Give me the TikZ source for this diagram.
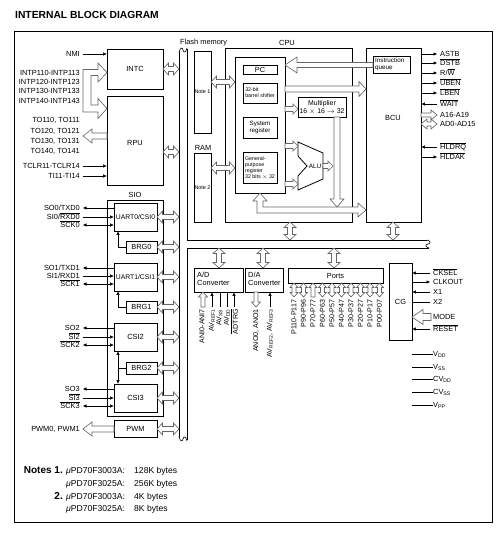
\documentclass[tikz,border=0pt]{standalone}
\usepackage{fontspec}
\setmainfont{Liberation Sans}
\usetikzlibrary{arrows.meta}
\newcommand\olx[1]{$\overline{\hbox{#1}}$}
\def\pw{2.5}\def\hw{6}\def\hl{5}
\newcommand\setfat[3]{\def\pw{#1}\def\hw{#2}\def\hl{#3}}
\newcommand\HA[3]{\pgfmathsetmacro\hbx{#2-sign(#2-#1)*\hl}%
  \path[fat] (#1,#3-\pw) -- (\hbx,#3-\pw) -- (\hbx,#3-\hw) -- (#2,#3) -- (\hbx,#3+\hw) -- (\hbx,#3+\pw) -- (#1,#3+\pw) -- cycle;}
\newcommand\VA[3]{\pgfmathsetmacro\hby{#3-sign(#3-#2)*\hl}%
  \path[fat] (#1-\pw,#2) -- (#1-\pw,\hby) -- (#1-\hw,\hby) -- (#1,#3) -- (#1+\hw,\hby) -- (#1+\pw,\hby) -- (#1+\pw,#2) -- cycle;}
\newcommand\HD[3]{\path[fat] (#1,#3) -- (#1+\hl,#3-\hw) -- (#1+\hl,#3-\pw) -- (#2-\hl,#3-\pw) -- (#2-\hl,#3-\hw) -- (#2,#3) -- (#2-\hl,#3+\hw) -- (#2-\hl,#3+\pw) -- (#1+\hl,#3+\pw) -- (#1+\hl,#3+\hw) -- cycle;}
\newcommand\VD[3]{\path[fat] (#1,#2) -- (#1-\hw,#2+\hl) -- (#1-\pw,#2+\hl) -- (#1-\pw,#3-\hl) -- (#1-\hw,#3-\hl) -- (#1,#3) -- (#1+\hw,#3-\hl) -- (#1+\pw,#3-\hl) -- (#1+\pw,#2+\hl) -- (#1+\hw,#2+\hl) -- cycle;}
\newcommand\blk[7][]{\node[blkbox,#1,minimum width={(#5)-(#3)},minimum height={(#6)-(#4)}] (#2) at ({((#3)+(#5))/2},{((#4)+(#6))/2}) {#7};}
\newcommand\lsig[5]{\node[lbl,anchor=base east] (#1) at (80,#2+2.6) {#3};
  \draw[#5] (83,#2) -- (#4.west |- 0,#2);}
\newcommand\rsig[6]{\node[lbl,anchor=base west] (#1) at (#3,#4+2.6) {#5};
  \draw[#6] (#2.east |- 0,#4) -- (#3-3,#4);}
\tikzset{
  fat/.style={draw=black!60, fill=white, line width=0.65pt, line join=miter},
  blkbox/.style={draw, line width=0.8pt, inner sep=0pt},
  lbl/.style={inner sep=0pt},
  ln/.style={line width=0.6pt},
  bline/.style={line width=0.8pt},
  tipB/.style={ln, -{Triangle[length=3.5pt,width=3pt]}},
  tipA/.style={ln, {Triangle[length=3.5pt,width=3pt]}-},
  tipAB/.style={ln, {Triangle[length=3.5pt,width=3pt]}-{Triangle[length=3.5pt,width=3pt]}},
  tinyf/.style={font=\fontsize{5.3}{6}\selectfont},
  rot/.style={lbl, rotate=90, anchor=east, font=\fontsize{7.1}{8}\selectfont},
  notef/.style={font=\fontsize{8.6}{10}\selectfont},
}
\begin{document}
\begin{tikzpicture}[x=1pt,y=-1pt,font=\fontsize{7.4}{8.7}\selectfont]
\useasboundingbox (0,0) rectangle (501,535);
\node[lbl,anchor=west,font=\bfseries\fontsize{10.3}{12}\selectfont] (title) at (15,15) {INTERNAL BLOCK DIAGRAM};
\draw[blkbox] (14,31) rectangle (492,522);

% bus pipe
\draw[bline] (179,52) -- (179,437);
\draw[bline] (187,49) -- (187,240) -- (427,240);
\draw[bline] (429,248) -- (187,248) -- (187,440);
\draw[ln] (179,53) .. controls (180,47) and (182.5,47) .. (183,50) .. controls (183.5,53) and (186,53) .. (187,48);
\draw[ln] (179,436) .. controls (180,442) and (182.5,442) .. (183,439) .. controls (183.5,436) and (186,436) .. (187,441);
\draw[ln] (427,240) .. controls (431,241) and (431,243.5) .. (428,244) .. controls (425,244.5) and (425,247) .. (429,248);

% left blocks
\blk{intc}{107}{49}{163}{89}{INTC}
\blk{rpu}{107}{96}{163}{185}{}
\node[lbl] (rpul) at (135,143) {RPU};
\node[lbl] (siol) at (135,195) {SIO};
\blk{sio}{107}{200}{163}{416}{}
\blk[font=\fontsize{6.8}{8}\selectfont]{uart0}{114}{203}{157}{231}{UART0/CSI0}
\blk{brg0}{126}{241}{157}{253}{BRG0}
\blk[font=\fontsize{6.8}{8}\selectfont]{uart1}{114}{263}{157}{291}{UART1/CSI1}
\blk{brg1}{126}{301}{157}{313}{BRG1}
\blk{csi2}{114}{323}{157}{351}{CSI2}
\blk{brg2}{126}{362}{157}{374}{BRG2}
\blk{csi3}{114}{384}{157}{412}{CSI3}
\blk{pwm}{114}{420}{157}{437}{PWM}
\draw[tipB] (brg0.west) -- (118,247) -- (uart0.south -| 118,0);
\draw[tipB] (brg1.west) -- (118,307) -- (uart1.south -| 118,0);
\draw[tipAB] (csi2.south -| 118,0) -- (csi3.north -| 118,0);
\draw[ln] (118,368) -- (brg2.west);

% memories
\node[lbl,anchor=west] (flashl) at (180,43) {Flash memory};
\blk[font=\fontsize{5.4}{6}\selectfont]{note1}{194}{51}{211}{133}{Note 1}
\node[lbl] (raml) at (203,148) {RAM};
\blk[font=\fontsize{5.4}{6}\selectfont]{note2}{194}{153}{211}{222}{Note 2}

% CPU
\blk{cpu}{225}{48}{352}{222}{}
\node[lbl] (cpul) at (287,42.5) {CPU};
\blk{inner}{235}{57}{285}{193}{}
\blk{pc}{243}{65}{277}{74}{PC}
\blk[tinyf,align=left]{bsh}{243}{83}{277}{103}{32-bit\\barrel shifter}
\blk[font=\fontsize{6.2}{7.2}\selectfont,align=center]{sysreg}{243}{117}{277}{138}{System\\register}
\blk[tinyf,align=left]{gpr}{243}{152}{277}{183}{General-\\purpose\\register\\32 bits $\times$ 32}
\blk[font=\fontsize{6.9}{8}\selectfont,align=center]{mul}{298}{97}{346}{117}{Multiplier\\16 $\times$ 16 $\rightarrow$ 32}
\draw[blkbox] (298,142) -- (323,153) -- (323,179) -- (298,190) -- (298,176) -- (307,166) -- (298,156) -- cycle;
\node[lbl,font=\fontsize{6.4}{7}\selectfont] (alul) at (315,166) {ALU};
\blk{bcu}{366}{48}{421}{222}{}
\node[lbl] (bcul) at (393,118) {BCU};
\blk{iq}{373}{56}{410}{73}{}
\node[lbl,font=\fontsize{6.3}{7}\selectfont,align=left,anchor=west] (iql) at (375,64.5) {Instruction\\queue};

% CPU internal fat arrows
\setfat{2.5}{8}{12}\HA{373}{285}{65}
\setfat{3}{7.5}{7}\HA{285}{366}{89}
\setfat{2.5}{5}{5}\HA{285}{298}{109}\HA{285}{298}{146}\HA{285}{298}{184}\HA{323}{333}{166}
\path[fat] (260,193) -- (267,201) -- (263,201) -- (263,207) -- (358,207) -- (358,203) -- (366,210) -- (358,217) -- (358,213) -- (257,213) -- (257,201) -- (253,201) -- cycle;
\setfat{3}{7}{8}\VA{337}{117}{207}

% double arrows to bus
\setfat{2.5}{6}{5.5}
\HD{211}{235}{82}\HD{211}{235}{168}
\HD{163}{179}{69}\HD{163}{179}{152}
\foreach \y in {217,247,277,307,337,368,398,429} {\HD{157}{179}{\y}}
\VD{290}{222}{240}\VD{393}{222}{240}
\VD{219}{248}{268}\VD{263}{248}{268}\VD{334}{248}{268}

% left signals
\lsig{nmi}{54}{NMI}{intc}{tipB}
\foreach \y/\t [count=\i] in {73/INTP110-INTP113,82/INTP120-INTP123,91/INTP130-INTP133,101/INTP140-INTP143}
  {\node[lbl,anchor=base east] (intp\i) at (80,\y+2.6) {\t};}
\path[fat] (83,69.5) -- (98,69.5) -- (98,63) -- (107,72.5) -- (98,82) -- (98,75.5) -- (91,75.5) -- (91,105) -- (98,105) -- (98,98.5) -- (107,108.5) -- (98,118.5) -- (98,112) -- (83,112) -- cycle;
\foreach \y/\t [count=\i] in {120/{TO110, TO111},131/{TO120, TO121},141/{TO130, TO131},151/{TO140, TO141}}
  {\node[lbl,anchor=base east] (to\i) at (80,\y+2.6) {\t};}
\setfat{3}{7}{9}\HA{107}{83}{136}
\lsig{tclr}{166}{TCLR11-TCLR14}{rpu}{tipB}
\lsig{ti}{176}{TI11-TI14}{rpu}{tipB}
\lsig{so0}{208}{SO0/TXD0}{uart0}{tipA}
\lsig{si0}{217}{SI0/\olx{RXD0}}{uart0}{tipB}
\lsig{sck0}{225}{\olx{SCK0}}{uart0}{tipAB}
\lsig{so1}{268}{SO1/TXD1}{uart1}{tipA}
\lsig{si1}{276}{SI1/RXD1}{uart1}{tipB}
\lsig{sck1}{284}{\olx{SCK1}}{uart1}{tipAB}
\lsig{so2}{328}{SO2}{csi2}{tipA}
\lsig{si2}{337}{\olx{SI2}}{csi2}{tipB}
\lsig{sck2}{345}{\olx{SCK2}}{csi2}{tipAB}
\lsig{so3}{389}{SO3}{csi3}{tipA}
\lsig{si3}{398}{\olx{SI3}}{csi3}{tipB}
\lsig{sck3}{406}{\olx{SCK3}}{csi3}{tipAB}
\node[lbl,anchor=base east] (pwmo) at (80,431.6) {PWM0, PWM1};
\setfat{3}{7}{9}\HA{114}{83}{429}

% BCU signals
\rsig{astb}{bcu}{440}{54}{ASTB}{tipB}
\rsig{dstb}{bcu}{440}{63}{\olx{DSTB}}{tipB}
\rsig{rw}{bcu}{440}{73}{R/\olx{W}}{tipB}
\rsig{uben}{bcu}{440}{83}{\olx{UBEN}}{tipB}
\rsig{lben}{bcu}{440}{93}{\olx{LBEN}}{tipB}
\rsig{wait}{bcu}{440}{104}{\olx{WAIT}}{tipA}
\node[lbl,anchor=base west] (a16) at (440,117.6) {A16-A19};
\node[lbl,anchor=base west] (ad0) at (440,126.6) {AD0-AD15};
\setfat{2}{5}{6}\HA{421}{437}{115}\HD{421}{437}{124}
\rsig{hldrq}{bcu}{440}{147}{\olx{HLDRQ}}{tipA}
\rsig{hldak}{bcu}{440}{157}{\olx{HLDAK}}{tipB}

% peripherals
\blk{adc}{194}{268}{243}{292}{}
\node[lbl,align=left,anchor=west] (adcl) at (197,279) {A/D\\Converter};
\blk{dac}{245}{268}{283}{292}{}
\node[lbl,align=left,anchor=west] (dacl) at (248,279) {D/A\\Converter};
\blk{ports}{288}{268}{383}{283}{Ports}
\blk{cg}{389}{263}{412}{340}{CG}

\setfat{2}{4.5}{5}\VA{203}{307}{292}\VA{256}{292}{307}
\draw[tipB] (212,307) -- (adc.south -| 212,0);
\draw[ln] (220,307) -- (adc.south -| 220,0);
\draw[ln] (227,307) -- (adc.south -| 227,0);
\draw[tipB] (234,307) -- (adc.south -| 234,0);
\draw[tipB] (270,307) -- (dac.south -| 270,0);
\node[rot] (ani) at (202,309) {ANI0-ANI7};
\node[rot] (avr1) at (212,309) {AV\textsubscript{REF1}};
\node[rot] (avss) at (219.5,309) {AV\textsubscript{SS}};
\node[rot] (avdd) at (227,309) {AV\textsubscript{DD}};
\node[rot] (adtrg) at (234.5,309) {\olx{ADTRG}};
\node[rot] (ano) at (256,309) {ANO0, ANO1};
\node[rot] (avr23) at (270,309) {AV\textsubscript{REF2}, AV\textsubscript{REF3}};

\setfat{2}{4}{4.5}
\foreach \x/\t [count=\i] in {294/P110-P117,303.5/P90-P96,313/P70-P77,322.5/P60-P63,332/P50-P57,341.5/P40-P47,351/P30-P37,360.5/P20-P27,370/P10-P17,379.5/P00-P07}
  {\ifnum\i=3 \VA{\x}{297}{283}\else\VD{\x}{283}{297}\fi
   \node[rot] (p\i) at (\x,299.5) {\t};}

% CG signals
\rsig{cksel}{cg}{433}{273}{\olx{CKSEL}}{tipA}
\rsig{clkout}{cg}{433}{282}{CLKOUT}{tipB}
\rsig{xa}{cg}{433}{292}{X1}{tipA}
\rsig{xb}{cg}{433}{302}{X2}{ln}
\node[lbl,anchor=base west] (mode) at (433,319.6) {MODE};
\setfat{3.5}{7.5}{11}\HA{431}{412}{317}
\rsig{reset}{cg}{433}{329}{\olx{RESET}}{tipA}

% power
\foreach \y/\t [count=\i] in {354/{V\textsubscript{DD}},367/{V\textsubscript{SS}},379/{CV\textsubscript{DD}},392/{CV\textsubscript{SS}},405/{V\textsubscript{PP}}}
  {\node[lbl,anchor=base west] (pw\i) at (433,\y+2.6) {\t};
   \draw[ln] (412,\y) -- (pw\i.west |- 0,\y);}

% notes
\node[lbl,notef,anchor=base east,font=\bfseries] (n1) at (63,473.1) {Notes 1.};
\node[lbl,notef,anchor=base east,font=\bfseries] (n2) at (63,499.1) {2.};
\foreach \y/\a/\b [count=\i] in {470/3003A/128K bytes,483/3025A/256K bytes,496/3003A/4K bytes,508/3025A/8K bytes}
  {\node[lbl,notef,anchor=base west] (nd\i) at (66,\y+3.1) {\textit{μ}PD70F\a:};
   \node[lbl,notef,anchor=base west] (nv\i) at (134,\y+3.1) {\b};}
\end{tikzpicture}
\end{document}
